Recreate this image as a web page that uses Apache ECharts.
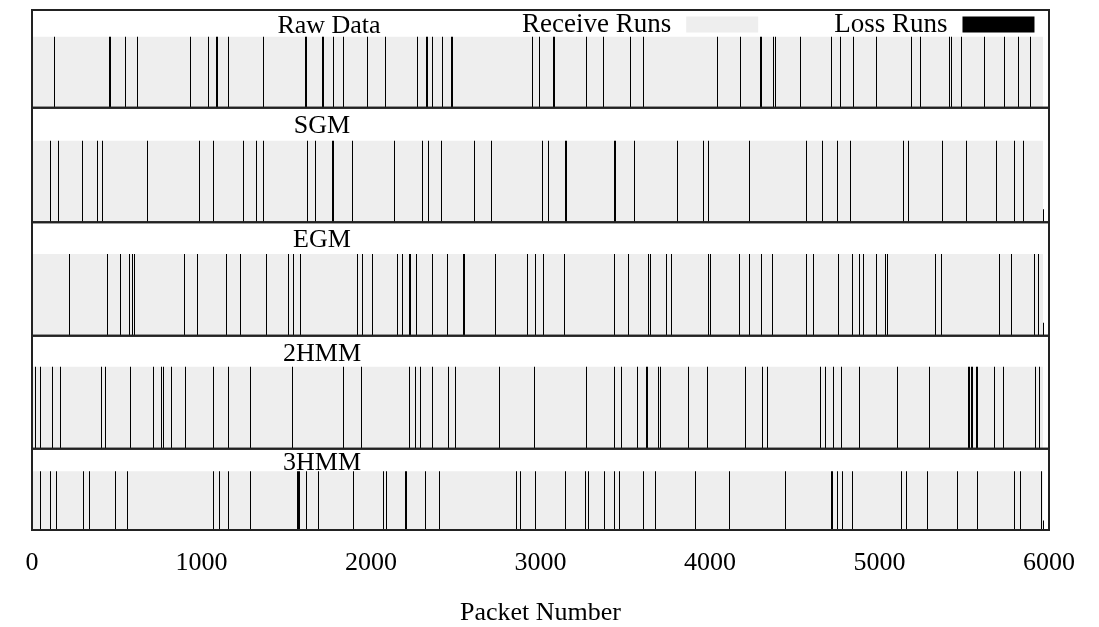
<!DOCTYPE html>
<html><head><meta charset="utf-8">
<script src="https://cdn.jsdelivr.net/npm/echarts@6/dist/echarts.min.js"></script>
<style>html,body{margin:0;padding:0;background:#fff}#c{width:1099px;height:627px}</style>
</head><body><div id="c"></div>
<script>
// ---- data ----
const panelNames = ['Raw Data', 'SGM', 'EGM', '2HMM', '3HMM'];
const xTicks = [0, 1000, 2000, 3000, 4000, 5000, 6000];
const receiveEnd = [5966, 5966, 5966, 5966, 5966];
// loss runs: [packet, run length]
const lossRaw = [[131,1],[454,10],[547,1],[622,1],[934,1],[1037,1],[1084,1],[1093,1],[1155,1],[1365,1],[1611,1],[1617,1],[1709,1],[1717,1],[1776,1],[1837,1],[1978,1],[2084,1],[2270,1],[2323,10],[2358,1],[2419,1],[2470,10],[2948,1],[2993,1],[3074,10],[3270,1],[3371,1],[3526,1],[3605,1],[4043,1],[4175,1],[4295,10],[4372,1],[4385,1],[4533,1],[4712,1],[4765,1],[4845,1],[4981,1],[5188,1],[5241,1],[5408,1],[5424,1],[5483,1],[5618,1],[5733,1],[5815,1],[5886,1]];
const lossSGM = [[108,1],[155,1],[297,1],[385,1],[415,1],[680,1],[983,1],[1070,1],[1247,1],[1323,1],[1365,1],[1624,1],[1671,1],[1768,1],[1776,6],[1890,1],[2134,1],[2299,1],[2334,1],[2411,1],[2609,1],[2710,1],[3007,1],[3046,1],[3143,1],[3150,1],[3432,10],[3553,1],[3807,1],[3957,1],[3990,1],[4232,1],[4568,1],[4659,1],[4751,1],[4824,1],[5141,1],[5168,1],[5367,1],[5512,1],[5686,1],[5792,1],[5848,1]];
const lossEGM = [[220,1],[444,1],[521,1],[572,1],[590,1],[602,1],[895,1],[972,1],[1145,1],[1225,1],[1379,1],[1508,1],[1542,1],[1583,1],[1919,1],[1949,1],[2004,1],[2155,1],[2183,1],[2222,10],[2264,1],[2358,1],[2450,1],[2541,1],[2549,1],[2730,1],[2922,1],[2969,1],[3017,1],[3140,1],[3432,1],[3518,1],[3634,1],[3644,1],[3742,1],[3772,1],[3986,1],[4000,1],[4169,1],[4232,1],[4299,1],[4368,1],[4565,1],[4606,1],[4757,1],[4838,1],[4877,1],[4904,1],[4981,1],[5034,1],[5044,1],[5329,1],[5363,1],[5703,1],[5774,1],[5912,1],[5935,1]];
const loss2HMM = [[19,1],[45,1],[120,1],[167,1],[405,1],[433,1],[580,1],[716,1],[763,1],[773,1],[822,1],[904,1],[1070,1],[1155,1],[1288,1],[1536,1],[1837,1],[1943,1],[2222,1],[2261,1],[2287,1],[2360,1],[2456,1],[2497,1],[2757,1],[2960,1],[3270,1],[3435,1],[3477,1],[3571,1],[3621,10],[3695,1],[3703,1],[3872,1],[3984,1],[4208,1],[4309,1],[4336,1],[4651,1],[4680,1],[4727,1],[4775,1],[4877,1],[5105,1],[5294,1],[5525,12],[5537,12],[5571,12],[5676,1],[5731,1],[5918,1],[5943,1]];
const loss3HMM = [[49,1],[108,1],[143,1],[303,1],[338,1],[491,1],[562,1],[1070,1],[1105,1],[1155,1],[1288,1],[1563,10],[1575,1],[1618,1],[1686,1],[1896,1],[2073,1],[2090,1],[2201,1],[2208,1],[2317,1],[2400,1],[2857,1],[2881,1],[2969,1],[3146,1],[3261,1],[3282,1],[3373,1],[3435,1],[3465,1],[3603,1],[3677,1],[3913,1],[4114,1],[4441,1],[4712,1],[4721,1],[4751,1],[4781,1],[4838,1],[5129,1],[5159,1],[5283,1],[5460,1],[5578,1],[5795,1],[5831,1],[5951,1]];
const lossSets = [lossRaw, lossSGM, lossEGM, loss2HMM, loss3HMM];
// final partial loss mark at end of trace (packet, relative height)
const tailMarks = [null, [5966, 0.16], [5966, 0.16], null, [5966, 0.16]];

// ---- layout ----
const frameY = [10, 107.7, 222.3, 335.7, 448.7, 532.7];
const grayTop = [36.7, 140.7, 254, 366.7, 472];
const labelPos = [[329, 26], [322, 126], [322, 240], [322, 354], [322, 463]];
const L = 32, R = 1099 - 1049;
const FONT = '"Liberation Serif", "Times New Roman", serif';

const chart = echarts.init(document.getElementById('c'), null, {renderer: 'canvas'});
const grids = [], xAxes = [], yAxes = [], series = [], graphics = [];

function rectItem(params, api, color) {
  const p0 = api.coord([api.value(0), 0]);
  const p1 = api.coord([api.value(0) + api.value(1), api.value(2)]);
  const x = Math.round(p0[0]);
  const w = Math.max(1, Math.round(p1[0] - p0[0]));
  return {type: 'rect', shape: {x: x, y: p1[1], width: w, height: p0[1] - p1[1]}, style: {fill: color}};
}

for (let i = 0; i < 5; i++) {
  const top = frameY[i], bottom = frameY[i + 1];
  const h = bottom - top, gh = bottom - grayTop[i];
  grids.push({left: L, right: R, top: top, height: h, show: true, z: 10,
    borderColor: '#222', borderWidth: 2, backgroundColor: 'transparent', containLabel: false});
  const last = i === 4;
  xAxes.push({type: 'value', gridIndex: i, min: 0, max: 6000, interval: 1000,
    axisLine: {show: false}, axisTick: {show: false}, splitLine: {show: false},
    axisLabel: {show: last, fontFamily: FONT, fontSize: 26, color: '#000', margin: 20,
      formatter: v => xTicks.indexOf(v) >= 0 ? String(v) : ''},
    name: last ? 'Packet Number' : '', nameLocation: 'middle', nameGap: 70,
    nameTextStyle: {fontFamily: FONT, fontSize: 26, color: '#000'}});
  yAxes.push({type: 'value', gridIndex: i, min: 0, max: h / gh, show: false});
  series.push({type: 'custom', name: 'Receive Runs', xAxisIndex: i, yAxisIndex: i,
    itemStyle: {color: '#eeeeee'}, silent: true, z: 1,
    data: [[0, receiveEnd[i], 1]],
    renderItem: (p, api) => rectItem(p, api, '#eeeeee')});
  const d = lossSets[i].map(r => [r[0], r[1], 1]);
  if (tailMarks[i]) d.push([tailMarks[i][0], 1, tailMarks[i][1]]);
  series.push({type: 'custom', name: 'Loss Runs', xAxisIndex: i, yAxisIndex: i,
    itemStyle: {color: '#000'}, silent: true, z: 2,
    data: d,
    renderItem: (p, api) => rectItem(p, api, '#000')});
  graphics.push({type: 'text', x: labelPos[i][0], y: labelPos[i][1], z: 20,
    style: {text: panelNames[i], font: '26px ' + FONT, fill: '#000',
      textAlign: 'center', textVerticalAlign: 'middle'}});
}

chart.setOption({
  animation: false,
  backgroundColor: '#fff',
  grid: grids, xAxis: xAxes, yAxis: yAxes, series: series,
  legend: {data: [{name: 'Receive Runs', icon: 'rect'}, {name: 'Loss Runs', icon: 'rect'}],
    left: 522, top: 11, padding: 0, align: 'right', itemWidth: 72, itemHeight: 16, itemGap: 76,
    selectedMode: false,
    textStyle: {fontFamily: FONT, fontSize: 27, color: '#000', padding: [0, 10, 0, 0]}},
  graphic: graphics
});
</script></body></html>
